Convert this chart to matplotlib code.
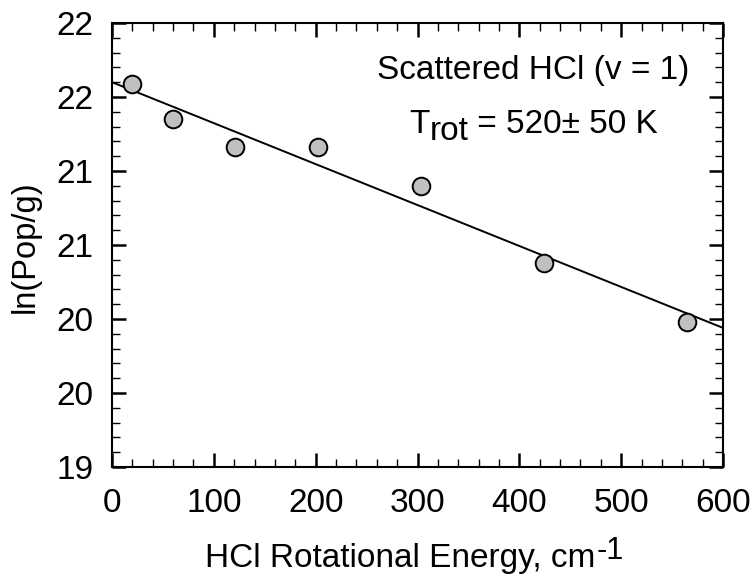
import matplotlib
matplotlib.use("Agg")
import matplotlib.pyplot as plt
from matplotlib.ticker import MultipleLocator, FixedLocator
from matplotlib.transforms import IdentityTransform

plt.rcParams['font.family'] = ['Liberation Sans', 'DejaVu Sans']

# Data
energy = [20, 60, 121, 202, 303, 424, 565]
ln_pop = [21.59, 21.35, 21.16, 21.16, 20.90, 20.38, 19.98]
fit_x = [0, 600]
fit_y = [21.60, 19.94]
ytick_vals = [19.0, 19.5, 20.0, 20.5, 21.0, 21.5, 22.0]
ytick_labels = ['19', '20', '20', '21', '21', '22', '22']
xtick_vals = [0, 100, 200, 300, 400, 500, 600]

W, H = 752, 577
fig = plt.figure(figsize=(W / 100, H / 100), dpi=100)
ax = fig.add_axes([112 / W, 1 - 467 / H, (723 - 112) / W, (467 - 23) / H])

ax.plot(fit_x, fit_y, color='black', lw=1.4, zorder=2)
ax.plot(energy, ln_pop, 'o', ms=12.7, mfc='#c0c0c0', mec='black', mew=1.4,
        zorder=3, clip_on=False)

ax.set_xlim(0, 600)
ax.set_ylim(19, 22)
ax.xaxis.set_major_locator(FixedLocator(xtick_vals))
ax.xaxis.set_minor_locator(MultipleLocator(20))
ax.yaxis.set_major_locator(FixedLocator(ytick_vals))
ax.yaxis.set_minor_locator(MultipleLocator(0.1))
ax.set_yticklabels(ytick_labels)

ax.tick_params(which='both', direction='in', top=True, right=True)
ax.tick_params(which='major', length=10, width=1.8, labelsize=24)
ax.tick_params(axis='x', which='major', pad=15)
ax.tick_params(axis='y', which='major', pad=13.5)
ax.tick_params(which='minor', length=6, width=1.0)
for s in ax.spines.values():
    s.set_linewidth(1.5)

fig.canvas.draw()
renderer = fig.canvas.get_renderer()
ident = IdentityTransform()

def px(x, y):
    # pixel coords from top-left -> display coords
    return x, H - y

# x label with raised superscript
xl = fig.text(*px(205, 567), 'HCl Rotational Energy, cm', fontsize=24,
              ha='left', va='baseline', transform=ident)
bb = xl.get_window_extent(renderer)
fig.text(bb.x1 + 1, H - 559, '-1', fontsize=22, ha='left', va='baseline',
         transform=ident)

# y label
fig.text(*px(25, 247), 'ln(Pop/g)', fontsize=23.5, rotation=90,
         ha='center', va='center', transform=ident)

# annotations
fig.text(*px(533, 79), 'Scattered HCl (v = 1)', fontsize=24,
         ha='center', va='baseline', transform=ident)
t1 = fig.text(*px(409, 133), 'T', fontsize=24, ha='left', va='baseline',
              transform=ident)
b1 = t1.get_window_extent(renderer)
t2 = fig.text(b1.x1, H - 140, 'rot', fontsize=24, ha='left', va='baseline',
              transform=ident)
b2 = t2.get_window_extent(renderer)
fig.text(b2.x1, H - 133, ' = 520± 50 K', fontsize=24, ha='left',
         va='baseline', transform=ident)

fig.savefig('out.png', dpi=100)
